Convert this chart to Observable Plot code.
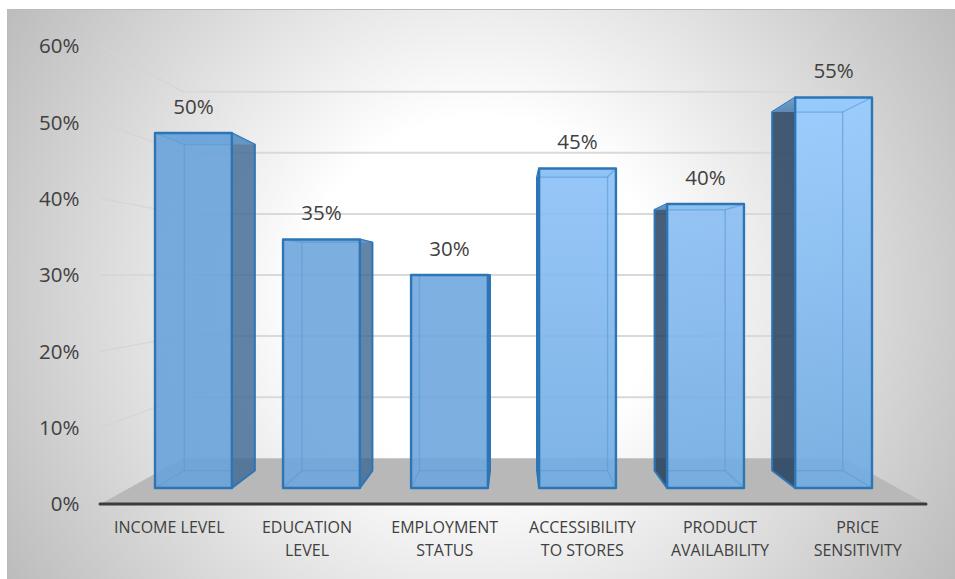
<!DOCTYPE html>
<html>
<head>
<meta charset="utf-8">
<script src="https://cdn.jsdelivr.net/npm/d3@7"></script>
<script src="https://cdn.jsdelivr.net/npm/@observablehq/plot@0.6"></script>
<style>
  html, body { margin: 0; padding: 0; background: #fff; }
  #chart svg {
    display: block;
    background:
      linear-gradient(#bcbcbc, #bcbcbc) 7px 9px / 948px 1px no-repeat,
      linear-gradient(#bcbcbc, #bcbcbc) 7px 9px / 1px 570px no-repeat,
      radial-gradient(circle farthest-corner at 50% 50%, #fff 32%, #bcbcbc 100%) 7px 9px / 948px 570px no-repeat;
  }
</style>
</head>
<body>
<div id="chart"></div>
<script>
// Factors that shape store choice, share of respondents (%)
const categories = ["INCOME LEVEL", "EDUCATION\nLEVEL", "EMPLOYMENT\nSTATUS", "ACCESSIBILITY\nTO STORES", "PRODUCT\nAVAILABILITY", "PRICE\nSENSITIVITY"];
const shares = [50, 35, 30, 45, 40, 55];
const yTicks = [0, 10, 20, 30, 40, 50, 60];

// Shading of each column, top to bottom
const frontTop = ["#6aa3da", "#6ea6dc", "#70a8de", "#8cc1f7", "#8abef4", "#96cbff"];
const frontBottom = ["#6aa3da", "#6ea6dc", "#6ea6dc", "#6fabe2", "#70abe2", "#70abe2"];
const sideFill = ["#3f6a94", "#3f6a94", "#3f6a94", "#1d3b5a", "#1d3b5a", "#1d3b5a"];

const font = "'Open Sans', sans-serif";
const ink = "#404040";

// One-point perspective toward the middle of the chart: depth 1 is the
// front plane carrying the axes, smaller depths recede toward the centre.
const FRONT = 1, BAR_NEAR = 0.93, BAR_FAR = 0.854, WALL = 0.8;
const BAND_PAD = 0.2;
const at = (u, v, depth) => ({x: 3 + (u - 3) * depth, y: 30 + (v - 30) * depth});
const poly = (key, corners) => [...corners, corners[0]].map((c) => ({key, ...at(...c)}));

const shape = (data, options) => Plot.line(data, {x: "x", y: "y", z: "key", curve: "linear", strokeLinejoin: "round", ...options});

// Back wall gridlines and the slanted stretch that joins them to the axis
const sideRules = yTicks.slice(1).flatMap((t) => [
  {key: t, ...at(0, t, FRONT)},
  {key: t, ...at(0, t, WALL)}
]);
const wallRules = yTicks.slice(1).flatMap((t) => [
  {key: t, ...at(0, t, WALL)},
  {key: t, ...at(6, t, WALL)}
]);
const floor = poly("floor", [[0, 0, FRONT], [0, 0, WALL], [6, 0, WALL], [6, 0, FRONT]]);

// Each column is a box with its own faces
function column(v, i) {
  const l = i + BAND_PAD, r = i + 1 - BAND_PAD;
  const outer = i < 3 ? r : l;
  const inner = i < 3 ? l : r;
  const side = poly("side", [[outer, 0, BAR_NEAR], [outer, v, BAR_NEAR], [outer, v, BAR_FAR], [outer, 0, BAR_FAR]]);
  const top = poly("top", [[l, v, BAR_NEAR], [r, v, BAR_NEAR], [r, v, BAR_FAR], [l, v, BAR_FAR]]);
  const bottom = poly("bottom", [[l, 0, BAR_NEAR], [r, 0, BAR_NEAR], [r, 0, BAR_FAR], [l, 0, BAR_FAR]]);
  const front = poly("front", [[l, 0, BAR_NEAR], [r, 0, BAR_NEAR], [r, v, BAR_NEAR], [l, v, BAR_NEAR]]);
  // The far rectangle's edges stop where the side face begins
  const seen = 3 + (outer - 3) * BAR_NEAR / BAR_FAR;
  const edges = [
    {key: "farBottom", ...at(seen, 0, BAR_FAR)}, {key: "farBottom", ...at(inner, 0, BAR_FAR)},
    {key: "farBottom", ...at(inner, v, BAR_FAR)}, {key: "farBottom", ...at(seen, v, BAR_FAR)},
    {key: "innerTop", ...at(inner, v, BAR_NEAR)}, {key: "innerTop", ...at(inner, v, BAR_FAR)},
    {key: "innerBottom", ...at(inner, 0, BAR_NEAR)}, {key: "innerBottom", ...at(inner, 0, BAR_FAR)}
  ];
  return [
    shape(side, {fill: sideFill[i], fillOpacity: 0.82, stroke: "#2e75b6", strokeWidth: 2}),
    shape(top, {fill: `url(#col${i})`, fillOpacity: 0.6, stroke: "none"}),
    shape(front, {fill: `url(#col${i})`, fillOpacity: 0.9, stroke: "none"}),
    shape(edges, {stroke: "#5b9bd5", strokeWidth: 1.3, strokeOpacity: 0.65}),
    shape(front, {stroke: "#2e75b6", strokeWidth: 2.4})
  ];
}

const gradients = () => {
  const defs = d3.create("svg:defs");
  frontTop.forEach((c, i) => {
    const g = defs.append("linearGradient").attr("id", `col${i}`).attr("x1", 0).attr("x2", 0).attr("y1", 0).attr("y2", 1);
    g.append("stop").attr("offset", "0%").attr("stop-color", c);
    g.append("stop").attr("offset", "100%").attr("stop-color", frontBottom[i]);
  });
  return defs.node();
};

const barLabels = shares.map((v, i) => ({label: `${v}%`, ...at(i + 0.5, v, BAR_NEAR)}));
const categoryLabels = categories.map((c, i) => ({label: c, x: i + 0.5, y: 0}));

const chart = Plot.plot({
  width: 955,
  height: 579,
  marginTop: 45.5,
  marginBottom: 75.5,
  marginLeft: 100,
  marginRight: 29,
  style: {fontFamily: font, overflow: "visible", background: null},
  x: {domain: [0, 6], axis: null},
  y: {domain: [0, 60]},
  marks: [
    gradients,
    shape(sideRules, {stroke: "#d4d4d4", strokeWidth: 1.4, strokeOpacity: 0.85}),
    shape(wallRules, {stroke: "#d9d9d9", strokeWidth: 2}),
    shape(floor, {fill: "#b8b8b8", stroke: "none"}),
    shares.map(column),
    Plot.ruleY([0], {stroke: "#3b3b3b", strokeWidth: 3, strokeLinecap: "round"}),
    Plot.axisY({
      ticks: yTicks,
      tickSize: 0,
      tickPadding: 21,
      tickFormat: (d) => `${d}%`,
      label: null,
      fontSize: 20.5,
      dy: 0.8,
      fill: ink
    }),
    Plot.text(barLabels, {x: "x", y: "y", text: "label", dy: -26, fontSize: 20.5, fill: ink}),
    Plot.text(categoryLabels, {x: "x", y: "y", text: "label", lineAnchor: "top", lineHeight: 1.44, dy: 12.5, fontSize: 16, fill: ink})
  ]
});
document.getElementById("chart").append(chart);
</script>
</body>
</html>
